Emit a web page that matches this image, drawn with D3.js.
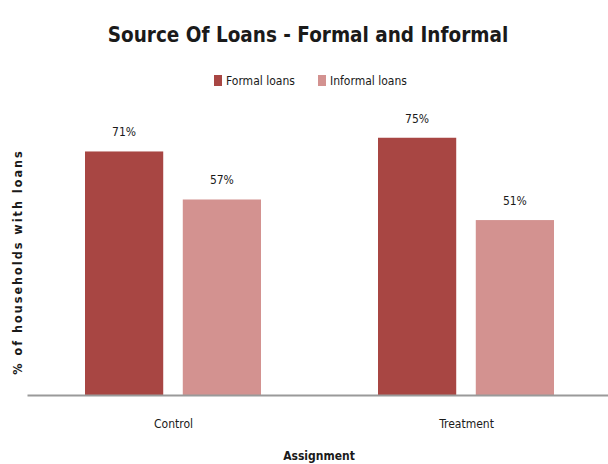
<!doctype html>
<html>
<head>
    <script src="https://d3js.org/d3.v7.min.js"></script>
</head>
<style>
    body { margin: 0; background: #fff; }
    svg text {
        font-family: "DejaVu Sans Condensed", "Liberation Sans Narrow", sans-serif;
        fill: #1a1a1a;
    }
</style>
<body>
    <div id="chart"></div>
    <script>
        // data
        var categories = ["Control", "Treatment"];
        var seriesNames = ["Formal loans", "Informal loans"];
        var formalValues = [71, 75];
        var informalValues = [57, 51];
        var colors = ["#a84643", "#d39290"];

        var width = 608,
            height = 464;

        var svg = d3.select("#chart")
                    .append("svg")
                    .attr("width", width)
                    .attr("height", height);

        var x = d3.scaleBand()
                  .domain(categories)
                  .range([27, 613]);

        var xSub = d3.scaleBand()
                     .domain(seriesNames)
                     .range([58, 234])
                     .paddingInner(0.2);

        var y = d3.scaleLinear()
                  .domain([0, 100])
                  .range([395, 52]);

        var rows = categories.map(function(c, i) {
            return { cat: c, vals: [formalValues[i], informalValues[i]] };
        });

        // title
        svg.append("text")
           .attr("x", 308)
           .attr("y", 42)
           .attr("text-anchor", "middle")
           .attr("font-size", "20.5px")
           .attr("font-weight", "bold")
           .text("Source Of Loans - Formal and Informal");

        // legend
        var legend = svg.append("g");
        var legendX = [214, 318];
        seriesNames.forEach(function(s, i) {
            legend.append("rect")
                  .attr("x", legendX[i])
                  .attr("y", 75)
                  .attr("width", 8)
                  .attr("height", 11)
                  .attr("fill", colors[i]);
            legend.append("text")
                  .attr("x", legendX[i] + 12)
                  .attr("y", 85)
                  .attr("font-size", "12px")
                  .text(s);
        });

        // bars
        var group = svg.selectAll("g.grp")
                       .data(rows)
                       .enter()
                       .append("g")
                       .attr("class", "grp")
                       .attr("transform", function(d) {
                           return "translate(" + x(d.cat) + ",0)";
                       });

        group.selectAll("rect")
             .data(function(d) {
                 return d.vals.map(function(v, i) { return { s: seriesNames[i], v: v, i: i }; });
             })
             .enter()
             .append("rect")
             .attr("x", function(d) { return xSub(d.s); })
             .attr("y", function(d) { return y(d.v); })
             .attr("width", xSub.bandwidth())
             .attr("height", function(d) { return y(0) - y(d.v); })
             .attr("fill", function(d) { return colors[d.i]; });

        group.selectAll("text.val")
             .data(function(d) {
                 return d.vals.map(function(v, i) { return { s: seriesNames[i], v: v }; });
             })
             .enter()
             .append("text")
             .attr("class", "val")
             .attr("x", function(d) { return xSub(d.s) + xSub.bandwidth() / 2; })
             .attr("y", function(d) { return y(d.v) - 15; })
             .attr("text-anchor", "middle")
             .attr("font-size", "12px")
             .attr("font-weight", "500")
             .text(function(d) { return d.v + "%"; });

        // x axis
        var xAxis = svg.append("g")
                       .attr("transform", "translate(0," + y(0) + ")")
                       .call(d3.axisBottom(x).tickSize(0).tickPadding(24));
        xAxis.select(".domain")
             .attr("stroke", "#9a9a9a")
             .attr("stroke-width", 2);
        xAxis.selectAll("text")
             .attr("font-size", "12px")
             .attr("font-family", "DejaVu Sans Condensed, sans-serif")
             .attr("fill", "#1a1a1a");

        svg.append("text")
           .attr("x", 319)
           .attr("y", 460)
           .attr("text-anchor", "middle")
           .attr("font-size", "12px")
           .attr("font-weight", "bold")
           .text("Assignment");

        svg.append("text")
           .attr("transform", "translate(22,262) rotate(-90)")
           .attr("text-anchor", "middle")
           .attr("font-family", "DejaVu Sans, sans-serif")
           .attr("font-size", "12.5px")
           .attr("font-weight", "bold")
           .attr("letter-spacing", "2px")
           .text("% of households with loans");
    </script>
</body>
</html>
